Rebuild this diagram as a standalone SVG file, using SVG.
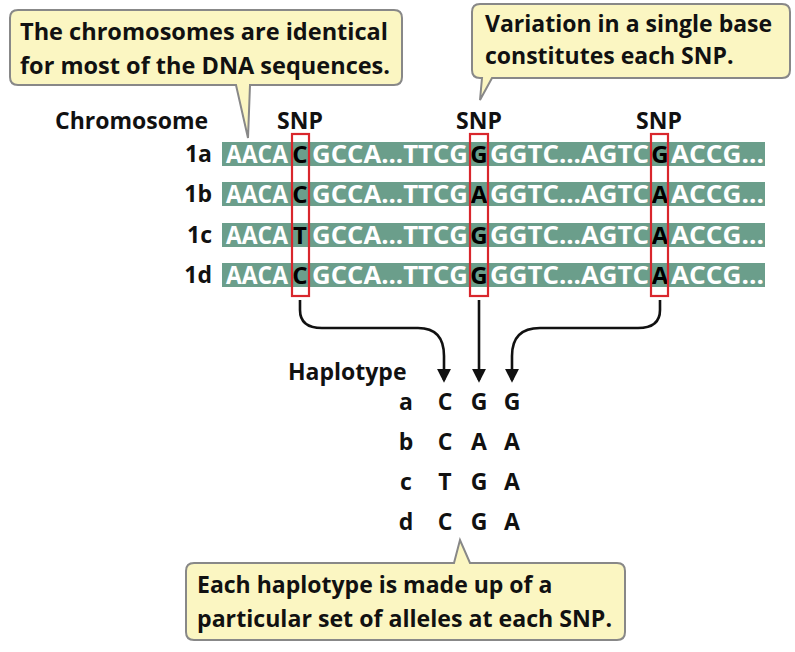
<svg xmlns="http://www.w3.org/2000/svg" width="795" height="652" viewBox="0 0 795 652">
<style>
text{font-family:"Open Sans","Liberation Sans",sans-serif;font-weight:bold}
.cl{font-size:23px;fill:#111}
.lb{font-size:23px;fill:#111}
.sq{font-size:25px;fill:#fff}
.sk{font-size:24px;fill:#000}
.bar{fill:#6b9e8b}
.snp{fill:none;stroke:#d9262c;stroke-width:2.2}
.bub{fill:#fbf6c2;stroke:#888;stroke-width:2}
.ar{fill:none;stroke:#111;stroke-width:2.6}
</style>
<defs><marker id="ah" viewBox="0 0 10 10" refX="8" refY="5" markerWidth="5.5" markerHeight="6" orient="auto"><path d="M0,0 L10,5 L0,10z" fill="#111"/></marker></defs>
<rect width="795" height="652" fill="#fff"/>
<g id="callout1">
<path class="bub" d="M18,10 H394 Q402,10 402,18 V77 Q402,85 394,85 H250 L248,138 L236,85 H18 Q10,85 10,77 V18 Q10,10 18,10Z"/>
<text class="cl" x="20" y="40" textLength="368" lengthAdjust="spacingAndGlyphs">The chromosomes are identical</text>
<text class="cl" x="20" y="74" textLength="370" lengthAdjust="spacingAndGlyphs">for most of the DNA sequences.</text>
</g>
<g id="callout2">
<path class="bub" d="M480,4 H782 Q790,4 790,12 V70 Q790,78 782,78 H492 L480,100 L482,78 H480 Q472,78 472,70 V12 Q472,4 480,4Z"/>
<text class="cl" x="485" y="32">Variation in a single base</text>
<text class="cl" x="485" y="64">constitutes each SNP.</text>
</g>
<g id="callout3">
<path class="bub" d="M194,563 H454 L460,540 L470,563 H617 Q625,563 625,571 V632 Q625,640 617,640 H194 Q186,640 186,632 V571 Q186,563 194,563Z"/>
<text class="cl" x="197" y="593">Each haplotype is made up of a</text>
<text class="cl" x="197" y="627" textLength="415" lengthAdjust="spacingAndGlyphs">particular set of alleles at each SNP.</text>
</g>
<g id="headers">
<text class="lb" x="55" y="129">Chromosome</text>
<text class="lb" x="300" y="129" text-anchor="middle">SNP</text>
<text class="lb" x="479" y="129" text-anchor="middle">SNP</text>
<text class="lb" x="659" y="129" text-anchor="middle">SNP</text>
</g>
<g id="row1a">
<text class="lb" x="212" y="162" text-anchor="end">1a</text>
<rect class="bar" x="222" y="142" width="543" height="24"/>
<text class="sq" x="226" y="163" textLength="62" lengthAdjust="spacingAndGlyphs">AACA</text>
<text class="sk" x="300" y="163" text-anchor="middle">C</text>
<text class="sq" x="312" y="163" textLength="156" lengthAdjust="spacingAndGlyphs">GCCA...TTCG</text>
<text class="sk" x="479" y="163" text-anchor="middle">G</text>
<text class="sq" x="490" y="163" textLength="159" lengthAdjust="spacingAndGlyphs">GGTC...AGTC</text>
<text class="sk" x="660" y="163" text-anchor="middle">G</text>
<text class="sq" x="671" y="163" textLength="93" lengthAdjust="spacingAndGlyphs">ACCG...</text>
</g>
<g id="row1b">
<text class="lb" x="212" y="202" text-anchor="end">1b</text>
<rect class="bar" x="222" y="182" width="543" height="24"/>
<text class="sq" x="226" y="203" textLength="62" lengthAdjust="spacingAndGlyphs">AACA</text>
<text class="sk" x="300" y="203" text-anchor="middle">C</text>
<text class="sq" x="312" y="203" textLength="156" lengthAdjust="spacingAndGlyphs">GCCA...TTCG</text>
<text class="sk" x="479" y="203" text-anchor="middle">A</text>
<text class="sq" x="490" y="203" textLength="159" lengthAdjust="spacingAndGlyphs">GGTC...AGTC</text>
<text class="sk" x="660" y="203" text-anchor="middle">A</text>
<text class="sq" x="671" y="203" textLength="93" lengthAdjust="spacingAndGlyphs">ACCG...</text>
</g>
<g id="row1c">
<text class="lb" x="212" y="243" text-anchor="end">1c</text>
<rect class="bar" x="222" y="223" width="543" height="24"/>
<text class="sq" x="226" y="244" textLength="62" lengthAdjust="spacingAndGlyphs">AACA</text>
<text class="sk" x="300" y="244" text-anchor="middle">T</text>
<text class="sq" x="312" y="244" textLength="156" lengthAdjust="spacingAndGlyphs">GCCA...TTCG</text>
<text class="sk" x="479" y="244" text-anchor="middle">G</text>
<text class="sq" x="490" y="244" textLength="159" lengthAdjust="spacingAndGlyphs">GGTC...AGTC</text>
<text class="sk" x="660" y="244" text-anchor="middle">A</text>
<text class="sq" x="671" y="244" textLength="93" lengthAdjust="spacingAndGlyphs">ACCG...</text>
</g>
<g id="row1d">
<text class="lb" x="212" y="283" text-anchor="end">1d</text>
<rect class="bar" x="222" y="263" width="543" height="24"/>
<text class="sq" x="226" y="284" textLength="62" lengthAdjust="spacingAndGlyphs">AACA</text>
<text class="sk" x="300" y="284" text-anchor="middle">C</text>
<text class="sq" x="312" y="284" textLength="156" lengthAdjust="spacingAndGlyphs">GCCA...TTCG</text>
<text class="sk" x="479" y="284" text-anchor="middle">G</text>
<text class="sq" x="490" y="284" textLength="159" lengthAdjust="spacingAndGlyphs">GGTC...AGTC</text>
<text class="sk" x="660" y="284" text-anchor="middle">A</text>
<text class="sq" x="671" y="284" textLength="93" lengthAdjust="spacingAndGlyphs">ACCG...</text>
</g>
<g id="snpboxes">
<rect class="snp" x="292" y="134" width="17" height="162"/>
<rect class="snp" x="470" y="134" width="18" height="162"/>
<rect class="snp" x="651" y="134" width="17" height="162"/>
</g>
<g id="connectors">
<path class="ar" marker-end="url(#ah)" d="M300,300 V310 Q300,328 322,328 H418 Q444,328 444,356 V380"/>
<path class="ar" marker-end="url(#ah)" d="M479,300 V380"/>
<path class="ar" marker-end="url(#ah)" d="M660,300 V310 Q660,328 638,328 H540 Q512,328 512,356 V380"/>
</g>
<g id="haplotypes">
<text class="lb" x="288" y="380">Haplotype</text>
<text class="lb" x="406" y="410" text-anchor="middle">a</text>
<text class="lb" x="445" y="410" text-anchor="middle">C</text>
<text class="lb" x="479" y="410" text-anchor="middle">G</text>
<text class="lb" x="512" y="410" text-anchor="middle">G</text>
<text class="lb" x="406" y="450" text-anchor="middle">b</text>
<text class="lb" x="445" y="450" text-anchor="middle">C</text>
<text class="lb" x="479" y="450" text-anchor="middle">A</text>
<text class="lb" x="512" y="450" text-anchor="middle">A</text>
<text class="lb" x="406" y="490" text-anchor="middle">c</text>
<text class="lb" x="445" y="490" text-anchor="middle">T</text>
<text class="lb" x="479" y="490" text-anchor="middle">G</text>
<text class="lb" x="512" y="490" text-anchor="middle">A</text>
<text class="lb" x="406" y="530" text-anchor="middle">d</text>
<text class="lb" x="445" y="530" text-anchor="middle">C</text>
<text class="lb" x="479" y="530" text-anchor="middle">G</text>
<text class="lb" x="512" y="530" text-anchor="middle">A</text>
</g>
</svg>
